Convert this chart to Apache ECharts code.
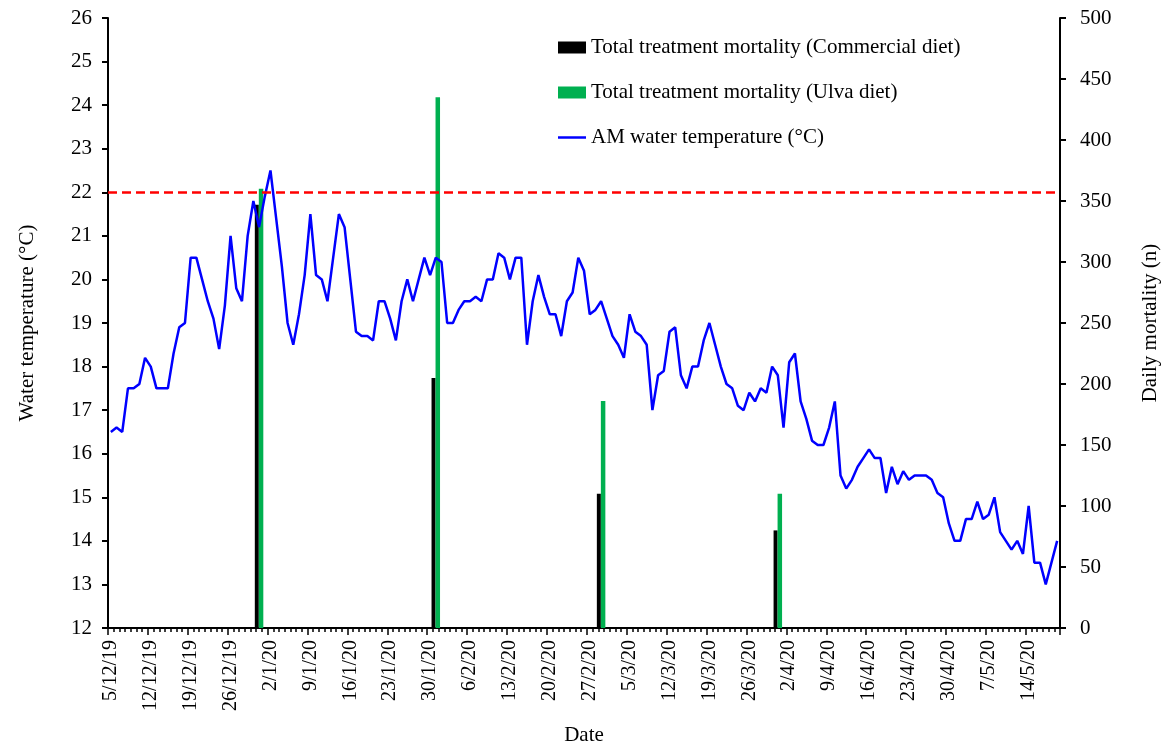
<!DOCTYPE html>
<html>
<head>
<meta charset="utf-8">
<script src="https://cdn.jsdelivr.net/npm/echarts@6/dist/echarts.min.js"></script>
<style>
  html, body { margin: 0; padding: 0; background: #fff; }
  #chart { width: 1168px; height: 747px; }
</style>
</head>
<body>
<div id="chart"></div>
<script>
// Daily record from 5 Dec 2019 to 19 May 2020 (167 days)
const startDate = new Date(2019, 11, 5);
const dayCount = 167;
const dates = [];
for (let i = 0; i < dayCount; i++) {
  const d = new Date(startDate.getFullYear(), startDate.getMonth(), startDate.getDate() + i);
  dates.push(d.getDate() + '/' + (d.getMonth() + 1) + '/' + String(d.getFullYear()).slice(2));
}

// AM water temperature (°C), one reading per day
const waterTemp = [
  16.5, 16.6, 16.5, 17.5, 17.5, 17.6, 18.2, 18.0, 17.5, 17.5,
  17.5, 18.3, 18.9, 19.0, 20.5, 20.5, 20.0, 19.5, 19.1, 18.4,
  19.4, 21.0, 19.8, 19.5, 21.0, 21.8, 21.2, 21.9, 22.5, 21.4,
  20.3, 19.0, 18.5, 19.2, 20.1, 21.5, 20.1, 20.0, 19.5, 20.5,
  21.5, 21.2, 20.0, 18.8, 18.7, 18.7, 18.6, 19.5, 19.5, 19.1,
  18.6, 19.5, 20.0, 19.5, 20.0, 20.5, 20.1, 20.5, 20.4, 19.0,
  19.0, 19.3, 19.5, 19.5, 19.6, 19.5, 20.0, 20.0, 20.6, 20.5,
  20.0, 20.5, 20.5, 18.5, 19.5, 20.1, 19.6, 19.2, 19.2, 18.7,
  19.5, 19.7, 20.5, 20.2, 19.2, 19.3, 19.5, 19.1, 18.7, 18.5,
  18.2, 19.2, 18.8, 18.7, 18.5, 17.0, 17.8, 17.9, 18.8, 18.9,
  17.8, 17.5, 18.0, 18.0, 18.6, 19.0, 18.5, 18.0, 17.6, 17.5,
  17.1, 17.0, 17.4, 17.2, 17.5, 17.4, 18.0, 17.8, 16.6, 18.1,
  18.3, 17.2, 16.8, 16.3, 16.2, 16.2, 16.6, 17.2, 15.5, 15.2,
  15.4, 15.7, 15.9, 16.1, 15.9, 15.9, 15.1, 15.7, 15.3, 15.6,
  15.4, 15.5, 15.5, 15.5, 15.4, 15.1, 15.0, 14.4, 14.0, 14.0,
  14.5, 14.5, 14.9, 14.5, 14.6, 15.0, 14.2, 14.0, 13.8, 14.0,
  13.7, 14.8, 13.5, 13.5, 13.0, 13.5, 14.0
];

// Total treatment mortality counts on sampling days
const mortalityDates = ['31/12/19', '31/1/20', '29/2/20', '31/3/20'];
const commercialDeaths = [347, 205, 110, 80];
const ulvaDeaths = [360, 435, 186, 110];

// Thermal threshold (°C)
const thresholdTemp = 22;

// Axis ranges
const tempMin = 12, tempMax = 26, tempStep = 1;
const mortMin = 0, mortMax = 500, mortStep = 50;

function spread(values) {
  return dates.map(function (d) {
    const k = mortalityDates.indexOf(d);
    return k >= 0 ? values[k] : null;
  });
}

const FONT = "'Liberation Serif', 'Times New Roman', serif";
const axisLineStyle = { color: '#000', width: 2 };

const chart = echarts.init(document.getElementById('chart'), null, { renderer: 'canvas' });

chart.setOption({
  animation: false,
  backgroundColor: '#fff',
  textStyle: { fontFamily: FONT, color: '#000' },
  grid: { left: 108, right: 108, top: 18, bottom: 119, containLabel: false, outerBoundsMode: 'none' },
  legend: {
    orient: 'vertical',
    left: 553,
    top: 32,
    itemWidth: 28,
    itemHeight: 12,
    itemGap: 24,
    textStyle: { fontFamily: FONT, fontSize: 21, color: '#000' },
    data: [
      { name: 'Total treatment mortality (Commercial diet)', icon: 'rect' },
      { name: 'Total treatment mortality (Ulva diet)', icon: 'rect' },
      { name: 'AM water temperature (°C)', icon: 'path://M0,0L28,0L28,2.5L0,2.5Z' }
    ]
  },
  xAxis: [
    {
      type: 'category',
      data: dates,
      boundaryGap: true,
      name: 'Date',
      nameLocation: 'middle',
      nameGap: 97,
      nameTextStyle: { fontFamily: FONT, fontSize: 21, color: '#000' },
      axisLine: { lineStyle: axisLineStyle },
      axisTick: { show: true, interval: 0, length: 4, lineStyle: { color: '#000', width: 1.5 } },
      axisLabel: {
        interval: 6,
        rotate: 90,
        margin: 12,
        fontFamily: FONT,
        fontSize: 20,
        color: '#000'
      },
      splitLine: { show: false }
    },
    {
      type: 'category',
      data: dates,
      boundaryGap: true,
      position: 'bottom',
      axisLine: { show: false },
      axisTick: { show: true, interval: 6, length: 7, lineStyle: { color: '#000', width: 1.5 } },
      axisLabel: { show: false },
      splitLine: { show: false }
    }
  ],
  yAxis: [
    {
      type: 'value',
      min: tempMin,
      max: tempMax,
      interval: tempStep,
      name: 'Water temperature (°C)',
      nameLocation: 'middle',
      nameRotate: 90,
      nameGap: 70,
      nameTextStyle: { fontFamily: FONT, fontSize: 21, color: '#000' },
      axisLine: { show: true, lineStyle: axisLineStyle },
      axisTick: { show: true, length: 6, lineStyle: { color: '#000', width: 2 } },
      axisLabel: { margin: 16, fontFamily: FONT, fontSize: 21, color: '#000' },
      splitLine: { show: false }
    },
    {
      type: 'value',
      min: mortMin,
      max: mortMax,
      interval: mortStep,
      position: 'right',
      name: 'Daily mortality (n)',
      nameLocation: 'middle',
      nameRotate: 90,
      nameGap: 80,
      nameTextStyle: { fontFamily: FONT, fontSize: 21, color: '#000' },
      axisLine: { show: true, lineStyle: axisLineStyle },
      axisTick: { show: true, length: 6, lineStyle: { color: '#000', width: 2 } },
      axisLabel: { margin: 20, fontFamily: FONT, fontSize: 21, color: '#000' },
      splitLine: { show: false }
    }
  ],
  series: [
    {
      name: 'Total treatment mortality (Commercial diet)',
      type: 'bar',
      yAxisIndex: 1,
      data: spread(commercialDeaths),
      barWidth: 4,
      barGap: '0%',
      itemStyle: { color: '#000000' },
      z: 2
    },
    {
      name: 'Total treatment mortality (Ulva diet)',
      type: 'bar',
      yAxisIndex: 1,
      data: spread(ulvaDeaths),
      barWidth: 4.5,
      barGap: '0%',
      itemStyle: { color: '#00B050' },
      z: 2
    },
    {
      name: 'AM water temperature (°C)',
      type: 'line',
      yAxisIndex: 0,
      data: waterTemp,
      symbol: 'none',
      showSymbol: false,
      lineStyle: { color: '#0000FF', width: 2.5 },
      itemStyle: { color: '#0000FF' },
      z: 3,
      markLine: {
        silent: true,
        symbol: ['none', 'none'],
        label: { show: false },
        lineStyle: { color: '#FF0000', width: 2.5, type: [9, 5] },
        data: [{ yAxis: thresholdTemp }]
      }
    }
  ]
});
</script>
</body>
</html>
